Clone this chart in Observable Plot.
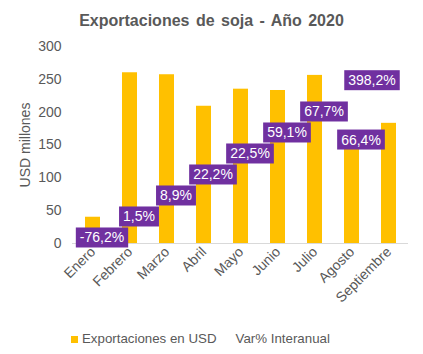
<!DOCTYPE html>
<html><head><meta charset="utf-8">
<script src="https://cdn.jsdelivr.net/npm/d3@7"></script>
<script src="https://cdn.jsdelivr.net/npm/@observablehq/plot@0.6"></script>
<style>
body{margin:0;background:#fff;font-family:"Liberation Sans",Arial,sans-serif;}
#wrap{width:423px;height:354px;position:relative;overflow:hidden;background:#fff}
#title{height:25px;padding-top:11px;line-height:20px;text-align:center;font-weight:bold;font-size:16px;color:#595959;word-spacing:2px}
#chart{height:282px}
#legend{height:30px;padding-top:6px;font-size:13.3px;color:#595959;line-height:16px;display:flex;align-items:center;padding-left:71px}
.sw{display:inline-block;width:7px;height:7px;margin-right:4px}
</style></head>
<body><div id="wrap">
<div id="title">Exportaciones de soja - Año 2020</div>
<div id="chart"></div>
<div id="legend"><span class="sw" style="background:#FFC000"></span><span>Exportaciones en USD</span><span class="sw" style="background:transparent;margin-left:8px"></span><span>Var% Interanual</span></div>
</div>
<script>
const months = ["Enero","Febrero","Marzo","Abril","Mayo","Junio","Julio","Agosto","Septiembre"];
const exportsUSD = [40, 260, 257, 209, 235, 233, 256, 148, 183];
const varInteranual = [-76.2, 1.5, 8.9, 22.2, 22.5, 59.1, 67.7, 66.4, 398.2];
const yTicks = [0, 50, 100, 150, 200, 250, 300];

const data = months.map((m, i) => ({month: m, usd: exportsUSD[i], v: varInteranual[i]}));
const fmt = v => v.toFixed(1).replace(".", ",") + "%";
// hidden secondary axis for the Var% series
const secondary = d3.scaleSymlog().constant(5).domain([-3.3, 1658]).range([0, 300]).clamp(true);
const last = months[months.length - 1];

const plot = Plot.plot({
  width: 423, height: 282,
  marginTop: 10, marginBottom: 75, marginLeft: 72, marginRight: 15,
  style: {fontFamily: "Liberation Sans, Arial, sans-serif", fontSize: "14px", color: "#595959", background: "#fff"},
  x: {domain: months, paddingInner: 0.6, paddingOuter: 0.3, label: null, tickSize: 0, tickRotate: -45, tickPadding: 6},
  y: {domain: [0, 300], ticks: yTicks, tickSize: 0, tickPadding: 11, label: null},
  marks: [
    Plot.barY(data, {x: "month", y: "usd", fill: "#FFC000"}),
    Plot.ruleY([0], {stroke: "#D9D9D9"}),
    Plot.text(["USD millones"], {frameAnchor: "left", textAnchor: "middle", rotate: -90, dx: -47, fill: "#595959", fontSize: "14px"}),
    Plot.text(data.filter(d => d.month !== last), {x: "month", y: d => secondary(d.v), text: d => fmt(d.v), dx: 9, dy: -10, fill: "white", fontSize: "14px"}),
    Plot.text(data.filter(d => d.month === last), {x: "month", y: d => secondary(d.v), text: d => fmt(d.v), dx: -17, dy: -10, fill: "white", fontSize: "14px"})
  ]
});
document.getElementById("chart").append(plot);

// purple label boxes + simple vertical de-overlap of neighbouring labels
const texts = Array.from(plot.querySelectorAll('g[fill="white"] text'));
const items = texts.map((t, i) => {
  const b = t.getBBox();
  const r = document.createElementNS("http://www.w3.org/2000/svg", "rect");
  r.setAttribute("x", b.x - 4);
  r.setAttribute("y", b.y - 2);
  r.setAttribute("width", b.width + 8);
  r.setAttribute("height", b.height + 4);
  r.setAttribute("fill", "#7030A0");
  t.parentNode.insertBefore(r, t.parentNode.firstChild);
  const ctm = t.getCTM();
  const cx = b.x + b.width / 2 + ctm.e, cy = b.y + b.height / 2 + ctm.f;
  return {t, r, v: varInteranual[i], x1: cx - b.width / 2 - 4, x2: cx + b.width / 2 + 4, cy, cy0: cy, tr: t.getAttribute("transform") || ""};
});
const H = 21;
for (let k = 0; k < 60; k++) {
  for (let i = 0; i < items.length - 1; i++) {
    const a = items[i], b = items[i + 1];
    if (a.x2 <= b.x1 || b.x2 <= a.x1) continue;
    const up = a.v >= b.v ? a : b, dn = up === a ? b : a;
    const sep = dn.cy - up.cy;
    if (sep < H) { const s = (H - sep) / 2; up.cy -= s; dn.cy += s; }
  }
}
items.forEach(it => {
  const d = it.cy - it.cy0;
  const tr = (it.tr + ` translate(0,${d})`).trim();
  it.t.setAttribute("transform", tr);
  it.r.setAttribute("transform", tr);
});
</script>
</body></html>
